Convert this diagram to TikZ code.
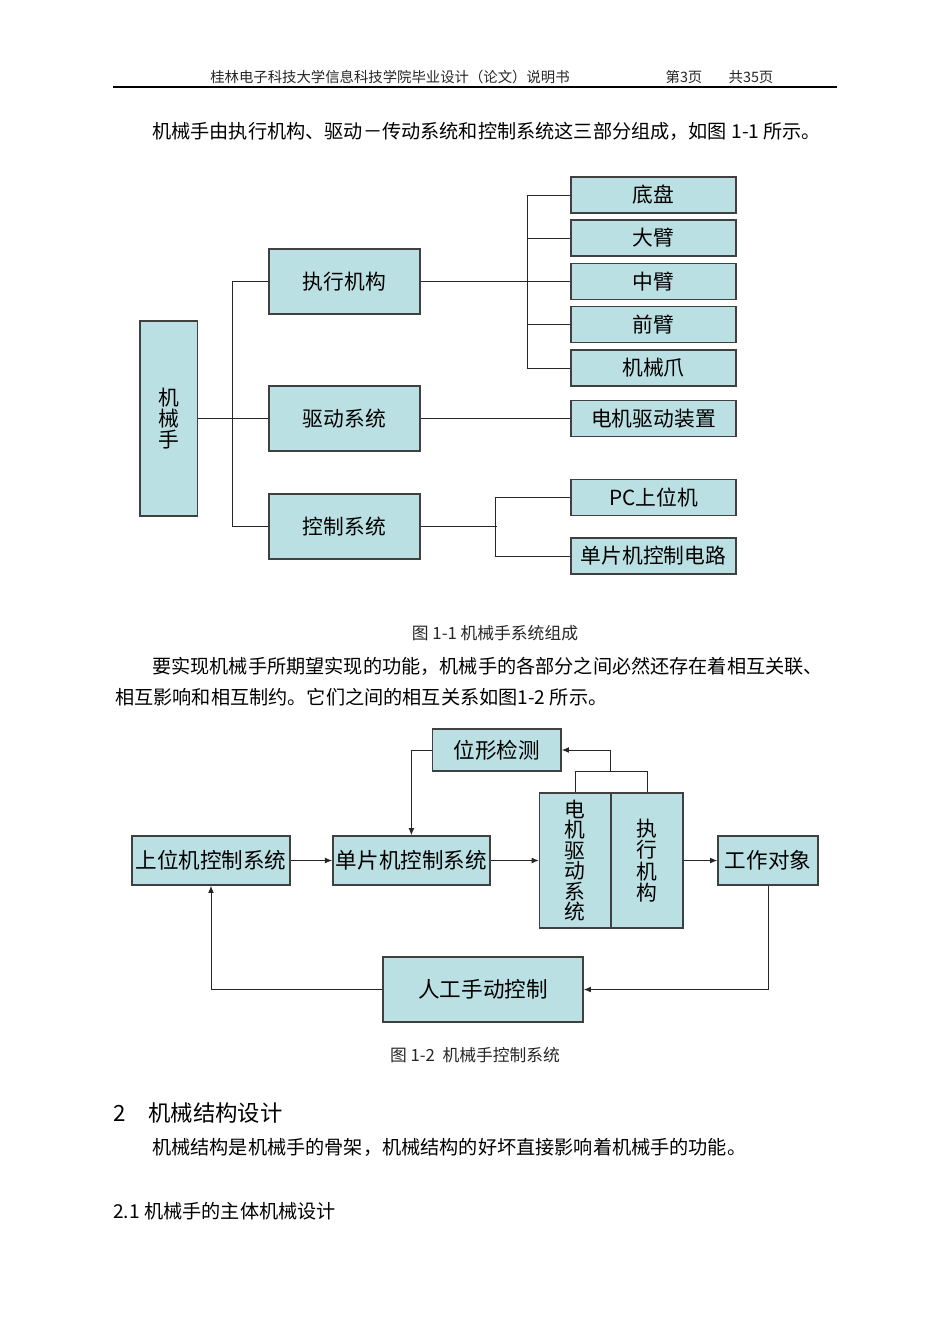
\documentclass[tikz,border=0pt]{standalone}
\usepackage{fontspec}
\setmainfont{Noto Sans CJK SC}
\usetikzlibrary{arrows.meta}
\definecolor{boxfill}{HTML}{BBE0E3}
\tikzset{
	box/.style={draw=black!75, line width=0.9pt, fill=boxfill, inner sep=0pt, align=center, font=\fontsize{13}{15}\selectfont},
	bx/.style 2 args={minimum width=#1*0.6263pt, minimum height=#2*0.6263pt},
	link/.style={draw=black!85, line width=0.6pt},
	arr/.style={link, -{Latex[length=4.5pt,width=3.6pt]}},
	txt/.style={anchor=west, inner sep=0pt, font=\fontsize{12}{14}\selectfont},
	captxt/.style={inner sep=0pt, text=black!85, font=\fontsize{10.5}{12}\selectfont}
}

\begin{document}
\begin{tikzpicture}[x=0.6263pt, y=-0.6263pt]
			%%%%% START %%%%%
			\fill[white] (0, 0) rectangle (950, 1344);
			\useasboundingbox (0, 0) rectangle (950, 1344);
			
			\node[captxt, font=\fontsize{9}{11}\selectfont] (head) at (390, 77) {桂林电子科技大学信息科技学院毕业设计（论文）说明书};
			\node[captxt, font=\fontsize{9}{11}\selectfont] (page) at (684, 77) {第3页};
			\node[captxt, font=\fontsize{9}{11}\selectfont] (total) at (751, 77) {共35页};
			\draw[line width=1.2pt] (113, 87) -- (837, 87);
			
			\node[txt] (intro) at (152, 131) {机械手由执行机构、驱动－传动系统和控制系统这三部分组成，如图 1-1 所示。};
			
			% figure 1-1
			\node[box, bx={57.5}{195}, font=\fontsize{13}{13}\selectfont] (jxs) at (168.75, 418.5) {机\\械\\手};
			
			\node[box, bx={151}{65}] (zhixing) at (344.5, 281.5) {执行机构};
			\node[box, bx={151}{65}] (qudong) at (344.5, 418.5) {驱动系统};
			\node[box, bx={151}{65}] (kongzhi) at (344.5, 526.5) {控制系统};
			
			\node[box, bx={165}{36}] (dipan) at (653.5, 195) {底盘};
			\node[box, bx={165}{36}] (dabi) at (653.5, 238) {大臂};
			\node[box, bx={165}{36}] (zhongbi) at (653.5, 281.5) {中臂};
			\node[box, bx={165}{36}] (qianbi) at (653.5, 324.7) {前臂};
			\node[box, bx={165}{36}] (zhua) at (653.5, 368) {机械爪};
			\node[box, bx={165}{36}] (dianji) at (653.5, 418.5) {电机驱动装置};
			\node[box, bx={165}{36}] (pc) at (653.5, 497.5) {PC上位机};
			\node[box, bx={165}{36}] (dpdl) at (653.5, 556) {单片机控制电路};
			
			\draw[link] (jxs.east) -- (qudong.west);
			\draw[link] (zhixing.west) -- ++(-36, 0) |- (kongzhi.west);
			\draw[link] (zhixing.east) -- (zhongbi.west);
			\draw[link] (dipan.west) -- ++(-43, 0) |- (zhua.west);
			\draw[link] (dabi.west) -- ++(-43, 0);
			\draw[link] (qianbi.west) -- ++(-43, 0);
			\draw[link] (qudong.east) -- (dianji.west);
			\draw[link] (kongzhi.east) -- ++(76, 0);
			\draw[link] (pc.west) -- ++(-75, 0) |- (dpdl.west);
			
			\node[captxt] (cap1) at (495, 633) {图 1-1 机械手系统组成};
			
			\node[txt] (para1) at (152, 666) {要实现机械手所期望实现的功能，机械手的各部分之间必然还存在着相互关联、};
			\node[txt] (para2) at (115, 697) {相互影响和相互制约。它们之间的相互关系如图1-2 所示。};
			
			% figure 1-2
			\node[box, bx={128.5}{42}, font=\fontsize{13.5}{15}\selectfont] (weixing) at (496.75, 750) {位形检测};
			\node[box, bx={158}{49}, font=\fontsize{13.5}{15}\selectfont] (shangwei) at (211, 860.5) {上位机控制系统};
			\node[box, bx={157}{49}, font=\fontsize{13.5}{15}\selectfont] (danpianji) at (411.4, 860.5) {单片机控制系统};
			\node[box, bx={71.4}{135}, font=\fontsize{13}{12.8}\selectfont] (djqd) at (575.3, 860.5) {电\\机\\驱\\动\\系\\统};
			\node[box, bx={72}{135}, font=\fontsize{13}{13.5}\selectfont] (zxjg) at (647, 860.5) {执\\行\\机\\构};
			\node[box, bx={100}{49}, font=\fontsize{13.5}{15}\selectfont] (gongzuo) at (768, 860.5) {工作对象};
			\node[box, bx={200}{65}, font=\fontsize{13.5}{15}\selectfont] (rengong) at (483, 989.5) {人工手动控制};
			
			\draw[arr] (shangwei.east) -- (danpianji.west);
			\draw[arr] (danpianji.east) -- (djqd.west);
			\draw[arr] (zxjg.east) -- (gongzuo.west);
			\draw[arr] (gongzuo.south) |- (rengong.east);
			\draw[arr] (rengong.west) -| (shangwei.south);
			\draw[arr] (weixing.west) -| (danpianji.north);
			\draw[link] (djqd.north) -- ++(0, -21) -| (zxjg.north);
			\coordinate (fb) at (610, 772);
			\draw[arr] (fb) |- (weixing.east);
			
			\node[captxt] (cap2) at (475, 1055) {图 1-2\ \ 机械手控制系统};
			
			\node[txt, font=\fontsize{14}{16}\selectfont] (secnum) at (113, 1113) {2};
			\node[txt, font=\fontsize{14}{16}\selectfont] (sec) at (148, 1113) {机械结构设计};
			\node[txt] (para3) at (152, 1147) {机械结构是机械手的骨架，机械结构的好坏直接影响着机械手的功能。};
			\node[txt] (subsec) at (113, 1211) {2.1 机械手的主体机械设计};
			
			%%%%% END %%%%%
\end{tikzpicture}
\end{document}
